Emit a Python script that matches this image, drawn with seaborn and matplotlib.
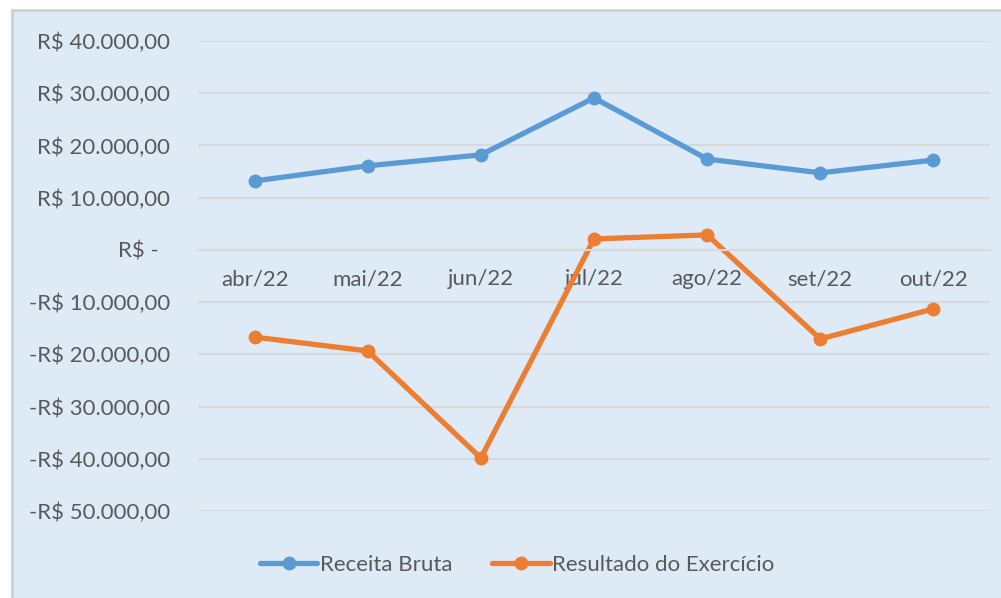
import pandas as pd
import seaborn as sns
import matplotlib.pyplot as plt
from matplotlib.patches import Rectangle
from matplotlib.ticker import FixedLocator

months = ["abr/22", "mai/22", "jun/22", "jul/22", "ago/22", "set/22", "out/22"]
receita_bruta = [13200, 16100, 18200, 29100, 17400, 14750, 17200]
resultado_exercicio = [-16700, -19350, -39850, 2100, 2870, -17050, -11300]
series_names = ["Receita Bruta", "Resultado do Exercício"]
y_ticks = [40000, 30000, 20000, 10000, 0, -10000, -20000, -30000, -40000, -50000]
y_tick_labels = ["R$ 40.000,00", "R$ 30.000,00", "R$ 20.000,00", "R$ 10.000,00", "R$ -  ",
                 "-R$ 10.000,00", "-R$ 20.000,00", "-R$ 30.000,00", "-R$ 40.000,00", "-R$ 50.000,00"]

BG = "#DEEAF6"
GRID = "#D9D9D9"
TEXT = "#595959"
colors = ["#5B9BD5", "#ED7D31"]

df = pd.DataFrame({
    "mes": months * 2,
    "valor": receita_bruta + resultado_exercicio,
    "serie": [series_names[0]] * len(months) + [series_names[1]] * len(months),
})

sns.set_style("white")
plt.rcParams["font.family"] = ["Lato", "DejaVu Sans"]
FS = 16

fig = plt.figure(figsize=(10.01, 5.98), dpi=100, facecolor="white")
# chart area box (Excel style)
fig.patches.append(Rectangle((12 / 1001, -0.01), 1.0, 1 - 10 / 598 + 0.01,
                             transform=fig.transFigure, facecolor=BG,
                             edgecolor="#D0D0D0", linewidth=2, zorder=-10))
ax = fig.add_axes([198 / 1001, 1 - 511 / 598, (990 - 198) / 1001, (511 - 41) / 598])
ax.patch.set_alpha(0)

sns.lineplot(data=df, x="mes", y="valor", hue="serie", palette=colors,
             marker="o", markersize=10, markeredgewidth=0, linewidth=3.8,
             sort=False, ax=ax, legend=True)

ax.set_ylim(-50000, 40000)
ax.set_xlim(-0.5, len(months) - 0.5)
ax.set_yticks(y_ticks)
ax.set_yticklabels(y_tick_labels)
ax.yaxis.grid(True, color=GRID, linewidth=1.5)
ax.set_axisbelow(True)
ax.tick_params(axis="y", length=0, pad=20, labelsize=FS, labelcolor=TEXT)

for side in ["left", "right", "top"]:
    ax.spines[side].set_visible(False)
ax.spines["bottom"].set_position(("data", 0))
ax.spines["bottom"].set_color(GRID)
ax.spines["bottom"].set_linewidth(1.5)
ax.set_xticks(range(len(months)))
ax.set_xticklabels(months)
ax.tick_params(axis="x", length=0, pad=14, labelsize=FS, labelcolor=TEXT)
ax.xaxis.set_minor_locator(FixedLocator([i - 0.5 for i in range(len(months) + 1)]))
ax.tick_params(axis="x", which="minor", length=5, width=1.5, color=GRID)
ax.set_xlabel("")
ax.set_ylabel("")

handles, labels = ax.get_legend_handles_labels()
ax.get_legend().remove()
leg = fig.legend(handles, labels, loc="center", bbox_to_anchor=(517 / 1001, 1 - 565 / 598),
                 ncol=2, frameon=False, fontsize=FS, handlelength=2.6,
                 handletextpad=0.1, columnspacing=1.8)
for t in leg.get_texts():
    t.set_color(TEXT)

fig.savefig("out.png", dpi=100, facecolor="white")
